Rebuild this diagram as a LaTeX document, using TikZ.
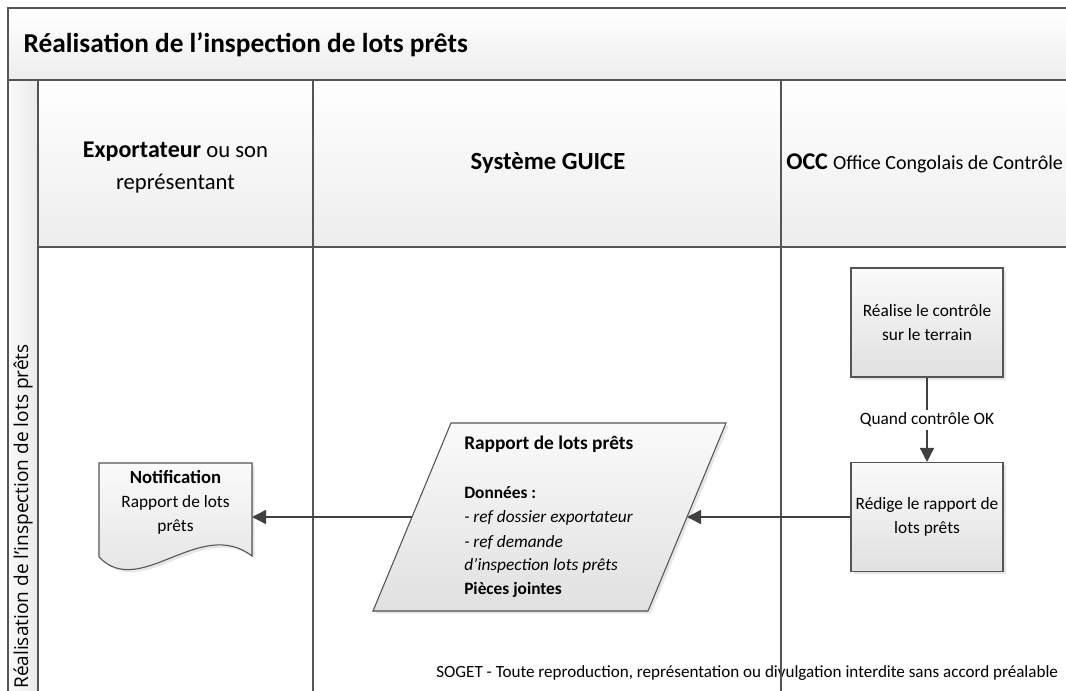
\documentclass[tikz,border=0pt]{standalone}
\usepackage{fontspec}
\setmainfont{Carlito}
\newfontfamily\poolfont{Open Sans}
\usetikzlibrary{arrows.meta,shadows}

\definecolor{frameC}{HTML}{555555}
\definecolor{arrowC}{HTML}{404040}

\newcommand{\fsz}[2]{\fontsize{#1}{#2}\selectfont}

\begin{document}
\begin{tikzpicture}[x=0.75pt,y=-0.75pt,
  frame/.style={draw=frameC, line width=1.2pt},
  band/.style={top color=white, bottom color=black!7},
  softshadow/.style={drop shadow={shadow xshift=2pt, shadow yshift=-2pt, fill=black!12, opacity=0.8}},
  shapefill/.style={draw=frameC, line width=0.8pt, top color=black!2, bottom color=black!12, softshadow},
  stepbox/.style={shapefill, minimum width=114pt, minimum height=81.75pt, align=center,
                  font=\fsz{13pt}{18pt}, inner sep=2pt},
  conn/.style={draw=arrowC, line width=1.1pt, -{Triangle[length=10.5pt,width=10.5pt]}},
  lanehead/.style={font=\fsz{17pt}{24pt}, align=center},
  txt/.style={font=\fsz{13pt}{18pt}, inner sep=0pt}
]
\useasboundingbox (0,0) rectangle (1066,691);

% ---- pool frame, title band, lane headers ----
\begin{scope}
  \clip (0,0) rectangle (1066,691);
  \path[band] (8,8) rectangle (1120,80);
  \path[band] (38,80) rectangle (1120,247);
  \path[left color=black!2, right color=black!8] (8,80) rectangle (38,720);
  \draw[frame] (8,720) -- (8,8) -- (1120,8);
  \draw[frame] (8,80) -- (1120,80);
  \draw[frame] (38,80) -- (38,720);
  \draw[frame] (38,247) -- (1120,247);
  \draw[frame] (313,80) -- (313,720);
  \draw[frame] (781,80) -- (781,720);
\end{scope}

\node[anchor=west, font=\bfseries\fsz{20.5pt}{24pt}] (title) at (19,45)
  {Réalisation de l’inspection de lots prêts};

\node[rotate=90, anchor=west, font=\poolfont\fsz{14.3pt}{16pt}, inner sep=0pt] (poolLabel) at (23,689)
  {Réalisation de l’inspection de lots prêts};

\node[lanehead] (laneExp) at (175.5,168)
  {{\bfseries\fsz{18pt}{24pt}Exportateur} ou son\\représentant};
\node[lanehead, font=\bfseries\fsz{18.5pt}{24pt}] (laneGuice) at (548,163) {Système GUICE};
\node[lanehead, anchor=west, inner sep=0pt] (laneOcc) at (786,163)
  {{\bfseries\fsz{18pt}{24pt}OCC} \fsz{15pt}{24pt}Office Congolais de Contrôle};

% ---- OCC activities ----
\node[stepbox] (realise) at (927,322.5) {Réalise le contrôle\\sur le terrain};
\node[stepbox] (redige) at (927,517) {Rédige le rapport de\\lots prêts};

% ---- report data (parallelogram) ----
\filldraw[shapefill] (373,611) -- (648,611) -- (726,423) -- (451,423) -- cycle;
\coordinate (rapL) at (412,517);
\coordinate (rapR) at (687,517);
\node[anchor=west, font=\bfseries\fsz{14.5pt}{18pt}, inner sep=0pt] (rapTitle) at (464,444) {Rapport de lots prêts};
\node[txt, anchor=west, font=\bfseries\fsz{13pt}{18pt}] (rapData) at (464,493) {Données :};
\node[txt, anchor=west, font=\itshape\fsz{13pt}{18pt}] (rapRef1) at (464,518) {- ref dossier exportateur};
\node[txt, anchor=west, font=\itshape\fsz{13pt}{18pt}] (rapRef2) at (464,542) {- ref demande};
\node[txt, anchor=west, font=\itshape\fsz{13pt}{18pt}] (rapRef3) at (464,566) {d’inspection lots prêts};
\node[txt, anchor=west, font=\bfseries\fsz{13pt}{18pt}] (rapAtt) at (464,590) {Pièces jointes};

% ---- notification (document shape) ----
\filldraw[shapefill] (99,463) -- (252,463) -- (252,556)
  .. controls (200,516) and (140,600) .. (99,557) -- cycle;
\coordinate (notifR) at (252,517);
\node[align=center, font=\fsz{13pt}{18pt}] (notif) at (175.5,502)
  {{\bfseries\fsz{14pt}{18pt}Notification}\\Rapport de lots\\prêts};

% ---- connectors ----
\draw[conn] (realise) -- node[fill=white, font=\fsz{13pt}{16pt}, inner sep=2pt] (okLabel) {Quand contrôle OK} (redige);
\draw[conn] (redige.west) -- (rapR);
\draw[conn] (rapL) -- (notifR);

% ---- footer ----
\node[anchor=west, font=\fsz{12.8pt}{16pt}, inner sep=0pt] (footer) at (436,673)
  {SOGET - Toute reproduction, représentation ou divulgation interdite sans accord préalable};
\draw[frame] (781,655) -- (781,691);
\end{tikzpicture}
\end{document}
